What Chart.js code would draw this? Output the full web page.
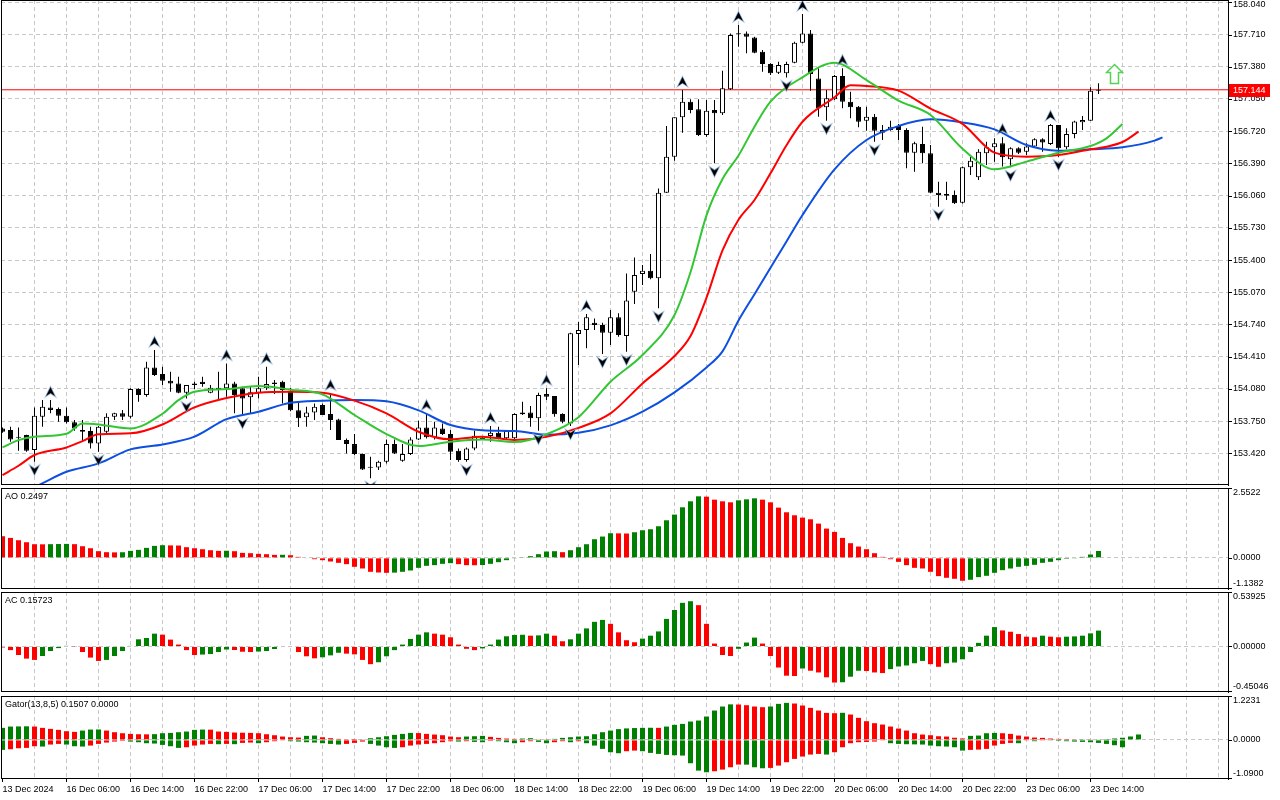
<!DOCTYPE html>
<html>
<head>
<meta charset="utf-8">
<title>USDJPY H1 - Alligator, Fractals, AO, AC, Gator</title>
<script src="https://cdn.jsdelivr.net/npm/chart.js@4.4.1/dist/chart.umd.min.js"></script>
<style>
  html, body { margin: 0; padding: 0; background: #fff; }
  body { position: relative; width: 1280px; height: 800px; overflow: hidden; }
  canvas { position: absolute; left: 0; }
</style>
</head>
<body>
<canvas id="cMain" width="1280" height="486" style="top:0"></canvas>
<canvas id="cAO" width="1280" height="103" style="top:487px"></canvas>
<canvas id="cAC" width="1280" height="102" style="top:591px"></canvas>
<canvas id="cGator" width="1280" height="105" style="top:695px"></canvas>
<script>
// ---- candles (one per hour, bar 0 = 13 Dec 22:00) ----
const opens = [
  153.675,153.658,153.585,153.607,153.453,153.795,153.890,153.873,153.805,153.737,
  153.658,153.648,153.521,153.641,153.795,153.829,153.795,154.078,154.017,154.300,
  154.232,154.163,154.136,154.041,154.119,154.153,154.041,154.092,154.085,154.136,
  154.085,153.993,154.041,154.085,154.146,154.153,154.060,153.860,153.788,153.839,
  153.914,153.822,153.767,153.555,153.514,153.412,153.278,153.275,153.333,153.514,
  153.344,153.412,153.562,153.685,153.583,153.675,153.617,153.446,153.350,153.470,
  153.580,153.597,153.631,153.573,153.573,153.819,153.839,153.778,154.027,154.007,
  153.822,153.725,154.642,154.683,154.758,154.734,154.656,154.813,154.622,155.076,
  155.257,155.291,155.212,156.090,156.459,156.862,157.022,156.944,156.681,156.937,
  156.903,157.149,157.712,157.722,157.681,157.535,157.408,157.319,157.313,157.422,
  157.627,157.722,157.261,156.964,157.046,157.285,157.022,156.971,156.828,156.869,
  156.705,156.732,156.773,156.732,156.500,156.589,156.493,156.090,156.076,156.066,
  155.988,156.350,156.247,156.493,156.555,156.596,156.432,156.545,156.510,156.562,
  156.637,156.589,156.784,156.555,156.691,156.811,156.828,157.135
];
const highs = [
  153.685,153.692,153.685,153.610,153.890,153.965,153.965,153.890,153.890,153.760,
  153.760,153.692,153.699,153.829,153.836,153.863,154.085,154.085,154.358,154.478,
  154.307,154.256,154.204,154.119,154.153,154.204,154.119,154.256,154.341,154.153,
  154.102,154.102,154.204,154.307,154.170,154.163,154.090,153.950,153.897,153.931,
  153.931,154.034,153.775,153.572,153.617,153.419,153.385,153.344,153.562,153.562,
  153.514,153.583,153.753,153.829,153.743,153.726,153.658,153.470,153.480,153.650,
  153.590,153.699,153.692,153.658,153.829,153.949,153.904,154.041,154.085,154.007,
  153.829,154.656,154.768,154.847,154.802,154.758,154.888,154.854,155.263,155.427,
  155.349,155.462,156.134,156.773,156.862,157.142,157.046,157.046,157.039,157.039,
  157.340,157.722,157.808,157.740,157.688,157.552,157.415,157.432,157.432,157.637,
  157.921,157.757,157.364,157.142,157.296,157.364,157.125,156.978,156.971,156.896,
  156.783,156.828,156.793,156.749,156.613,156.766,156.578,156.203,156.203,156.111,
  156.357,156.459,156.534,156.613,156.647,156.657,156.555,156.555,156.596,156.647,
  156.647,156.794,156.784,156.749,156.828,156.876,157.169,157.210
];
const lows = [
  153.631,153.538,153.446,153.436,153.334,153.692,153.829,153.743,153.726,153.651,
  153.538,153.470,153.436,153.624,153.760,153.760,153.777,153.948,154.000,154.211,
  154.119,154.051,154.034,153.982,154.075,154.102,154.034,153.965,154.000,153.829,
  153.812,153.829,153.982,154.068,154.027,153.931,153.850,153.690,153.692,153.760,
  153.811,153.658,153.555,153.419,153.402,153.248,153.163,153.248,153.316,153.412,
  153.333,153.402,153.555,153.572,153.562,153.607,153.350,153.333,153.333,153.450,
  153.556,153.539,153.563,153.563,153.563,153.812,153.692,153.651,153.966,153.795,
  153.727,153.700,154.324,154.495,154.683,154.437,154.529,154.615,154.461,154.949,
  155.144,155.202,154.905,156.090,156.418,156.705,156.903,156.671,156.664,156.391,
  156.886,157.142,157.586,157.518,157.518,157.330,157.296,157.306,157.270,157.415,
  157.620,157.135,156.869,156.828,157.039,156.954,156.852,156.759,156.725,156.613,
  156.630,156.725,156.630,156.339,156.305,156.391,156.083,155.947,156.015,155.974,
  155.980,156.271,156.220,156.374,156.408,156.357,156.350,156.486,156.476,156.555,
  156.510,156.579,156.459,156.534,156.647,156.732,156.828,157.101
];
const closes = [
  153.641,153.562,153.580,153.446,153.805,153.897,153.863,153.805,153.737,153.675,
  153.641,153.521,153.692,153.795,153.829,153.795,154.078,154.017,154.300,154.221,
  154.163,154.136,154.041,154.119,154.136,154.129,154.092,154.068,154.136,154.017,
  153.982,154.044,154.085,154.129,154.129,154.068,153.860,153.780,153.839,153.897,
  153.811,153.760,153.555,153.514,153.412,153.255,153.272,153.333,153.514,153.419,
  153.412,153.562,153.685,153.583,153.685,153.617,153.436,153.350,153.470,153.600,
  153.563,153.631,153.573,153.648,153.822,153.839,153.778,154.017,154.000,153.819,
  153.744,154.649,154.683,154.813,154.734,154.656,154.813,154.632,154.985,155.246,
  155.291,155.212,156.090,156.459,156.862,157.022,156.937,156.681,156.930,156.903,
  157.159,157.705,157.720,157.688,157.524,157.408,157.313,157.398,157.408,157.627,
  157.722,157.306,156.954,157.057,157.285,157.022,156.964,156.817,156.869,156.725,
  156.732,156.766,156.732,156.500,156.596,156.493,156.090,156.066,156.059,155.981,
  156.350,156.418,156.510,156.555,156.596,156.452,156.545,156.500,156.562,156.637,
  156.603,156.784,156.545,156.691,156.818,156.835,157.135,157.144
];

// ---- Alligator lines, read at these bar positions (already shifted forward) ----
const jawBars = [0,4,8,12,16,20,24,28,32,36,40,44,48,52,56,60,64,68,72,76,80,84,88,90,92,94,96,98,100,104,108,112,116,120,124,128,132,136,140,144,145];
const jawValues = [152.975,153.077,153.231,153.316,153.460,153.511,153.590,153.770,153.846,153.938,
  153.959,153.966,153.952,153.860,153.709,153.656,153.648,153.610,153.630,153.706,
  153.846,154.044,154.300,154.464,154.780,155.050,155.320,155.590,155.861,156.329,
  156.630,156.773,156.841,156.810,156.739,156.578,156.520,156.534,156.555,156.623,156.657];
const teethBars = [0,2,4,8,10,12,16,20,24,28,32,36,40,44,48,52,56,60,64,68,72,76,80,84,86,88,90,92,94,96,98,100,104,106,108,112,116,120,124,128,132,136,138,140,142];
const teethValues = [153.197,153.292,153.402,153.480,153.545,153.614,153.624,153.715,153.890,153.986,
  154.041,154.050,154.041,153.959,153.829,153.641,153.563,153.590,153.556,153.588,
  153.680,153.829,154.136,154.416,154.621,155.014,155.499,155.813,156.015,156.288,
  156.575,156.817,157.067,157.190,157.183,157.135,156.951,156.795,156.500,156.459,
  156.476,156.534,156.561,156.609,156.715];
const lipsBars = [0,2,4,8,10,12,16,20,22,24,28,32,36,40,44,48,52,56,60,64,68,72,76,80,84,86,88,90,92,94,96,100,104,108,112,116,120,124,128,132,136,138,140];
const lipsValues = [153.480,153.555,153.590,153.620,153.726,153.716,153.675,153.825,153.965,154.051,
  154.078,154.109,154.072,154.024,153.812,153.617,153.494,153.539,153.560,153.535,
  153.615,153.790,154.153,154.427,154.837,155.274,155.858,156.230,156.470,156.766,
  157.022,157.272,157.422,157.244,157.033,156.886,156.540,156.329,156.408,156.500,
  156.568,156.647,156.794];

// ---- fractals (bar numbers) and the signal arrow ----
const upFractals = [6,19,28,33,41,53,61,68,73,85,92,100,105,125,131];
const downFractals = [4,12,23,30,46,58,67,71,75,78,82,89,98,103,109,117,126,132];
const signalBar = 139;
const signalPrice = 157.306;

// ---- oscillators ----
const aoValues = [
  0.790,0.729,0.644,0.571,0.498,0.495,0.500,0.505,0.510,0.500,
  0.425,0.352,0.243,0.207,0.200,0.205,0.255,0.292,0.365,0.437,
  0.462,0.455,0.450,0.389,0.352,0.316,0.279,0.255,0.260,0.243,
  0.182,0.170,0.146,0.134,0.109,0.112,0.097,0.036,-0.020,-0.049,
  -0.085,-0.134,-0.182,-0.231,-0.328,-0.389,-0.510,-0.535,-0.547,-0.540,
  -0.510,-0.462,-0.365,-0.292,-0.267,-0.219,-0.194,-0.231,-0.267,-0.270,
  -0.262,-0.219,-0.158,-0.085,-0.024,0.024,0.061,0.134,0.231,0.243,
  0.207,0.279,0.389,0.498,0.680,0.778,0.899,0.895,0.890,0.936,
  1.008,1.045,1.154,1.373,1.580,1.847,2.066,2.248,2.236,2.126,
  2.066,2.029,2.102,2.138,2.175,2.126,2.029,1.835,1.665,1.555,
  1.470,1.409,1.251,1.069,0.948,0.729,0.535,0.413,0.316,0.170,
  0.036,-0.049,-0.146,-0.267,-0.365,-0.389,-0.510,-0.668,-0.729,-0.765,
  -0.838,-0.802,-0.705,-0.656,-0.547,-0.450,-0.389,-0.328,-0.292,-0.255,
  -0.182,-0.146,-0.085,-0.036,-0.012,0.036,0.122,0.2497
];
const acValues = [
  -0.010,-0.036,-0.084,-0.120,-0.133,-0.094,-0.045,-0.016,0.006,0.002,
  -0.055,-0.110,-0.143,-0.133,-0.094,-0.045,0.006,0.071,0.084,0.127,
  0.117,0.068,0.019,-0.036,-0.084,-0.080,-0.075,-0.055,-0.030,-0.035,
  -0.052,-0.055,-0.050,-0.045,-0.025,-0.005,0.000,-0.055,-0.097,-0.117,
  -0.107,-0.088,-0.062,-0.071,-0.078,-0.133,-0.175,-0.156,-0.097,-0.036,
  0.019,0.075,0.117,0.140,0.127,0.117,0.091,0.019,-0.023,-0.036,
  -0.019,0.019,0.068,0.101,0.114,0.116,0.107,0.110,0.127,0.107,
  0.052,0.071,0.127,0.179,0.244,0.263,0.224,0.140,0.062,0.042,
  0.078,0.107,0.149,0.273,0.361,0.432,0.448,0.409,0.224,0.029,
  -0.084,-0.094,-0.023,0.039,0.088,0.029,-0.094,-0.208,-0.289,-0.292,
  -0.218,-0.240,-0.257,-0.305,-0.357,-0.354,-0.299,-0.240,-0.243,-0.257,
  -0.263,-0.224,-0.198,-0.188,-0.166,-0.143,-0.175,-0.201,-0.166,-0.159,
  -0.127,-0.055,0.036,0.107,0.192,0.159,0.146,0.123,0.097,0.091,
  0.107,0.097,0.091,0.097,0.100,0.107,0.130,0.15723
];
const gatorUp = [
  0.335,0.372,0.375,0.378,0.372,0.335,0.307,0.279,0.242,0.223,
  0.260,0.288,0.290,0.260,0.214,0.186,0.167,0.158,0.155,0.160,
  0.186,0.195,0.214,0.233,0.279,0.288,0.285,0.233,0.223,0.205,
  0.200,0.195,0.186,0.158,0.130,0.093,0.074,0.065,0.112,0.121,
  0.074,0.047,0.028,0.009,0.002,0.019,0.047,0.074,0.102,0.140,
  0.167,0.195,0.190,0.167,0.149,0.130,0.093,0.074,0.093,0.102,
  0.112,0.084,0.056,0.037,0.028,0.037,0.047,0.019,0.009,0.028,
  0.056,0.074,0.093,0.102,0.158,0.214,0.260,0.300,0.320,0.330,
  0.335,0.338,0.335,0.372,0.419,0.446,0.512,0.539,0.651,0.818,
  0.930,0.990,0.986,0.967,0.930,0.911,0.930,1.004,1.032,1.014,
  0.958,0.893,0.818,0.753,0.744,0.755,0.707,0.614,0.521,0.465,
  0.428,0.372,0.316,0.260,0.186,0.149,0.130,0.102,0.093,0.060,
  0.040,0.112,0.121,0.186,0.195,0.186,0.167,0.121,0.093,0.065,
  0.056,0.037,0.028,0.025,0.019,0.020,0.010,0.018,0.025,0.040,
  0.060,0.095,0.1507
];
const gatorDown = [
  -0.279,-0.260,-0.233,-0.223,-0.177,-0.186,-0.130,-0.112,-0.130,-0.177,
  -0.186,-0.158,-0.112,-0.074,-0.047,-0.028,-0.047,-0.065,-0.093,-0.102,
  -0.140,-0.177,-0.223,-0.205,-0.158,-0.130,-0.112,-0.121,-0.112,-0.120,
  -0.084,-0.074,-0.093,-0.065,-0.037,-0.019,-0.037,-0.047,-0.065,-0.074,
  -0.093,-0.112,-0.130,-0.112,-0.084,-0.047,-0.112,-0.158,-0.205,-0.223,
  -0.205,-0.158,-0.130,-0.112,-0.093,-0.065,-0.037,-0.047,-0.037,-0.056,
  -0.065,-0.028,-0.037,-0.065,-0.093,-0.065,-0.037,-0.056,-0.093,-0.065,
  -0.037,-0.065,-0.037,-0.093,-0.158,-0.251,-0.344,-0.372,-0.316,-0.298,
  -0.316,-0.363,-0.391,-0.419,-0.428,-0.437,-0.651,-0.856,-0.902,-0.874,
  -0.828,-0.763,-0.688,-0.690,-0.763,-0.791,-0.781,-0.716,-0.623,-0.530,
  -0.465,-0.409,-0.391,-0.409,-0.344,-0.205,-0.093,-0.065,-0.058,-0.047,
  -0.019,-0.093,-0.112,-0.121,-0.125,-0.130,-0.158,-0.177,-0.186,-0.205,
  -0.298,-0.279,-0.270,-0.251,-0.158,-0.112,-0.084,-0.093,-0.019,-0.037,
  -0.009,-0.019,-0.028,-0.037,-0.047,-0.056,-0.065,-0.084,-0.112,-0.149,
  -0.205
];

// ---- axes ----
const priceTicks = [158.040,157.710,157.380,157.050,156.720,156.390,156.060,155.730,155.400,155.070,154.740,154.410,154.080,153.750,153.420];
const priceRange = [153.095, 158.064];
const aoRange = [-1.1382, 2.5522];
const acRange = [-0.45046, 0.53925];
const gatorRange = [-1.0900, 1.2231];
const timeLabelBars = [0,8,16,24,32,40,48,56,64,72,80,88,96,104,112,120,128,136];
const timeLabels = ['13 Dec 2024','16 Dec 06:00','16 Dec 14:00','16 Dec 22:00','17 Dec 06:00','17 Dec 14:00',
  '17 Dec 22:00','18 Dec 06:00','18 Dec 14:00','18 Dec 22:00','19 Dec 06:00','19 Dec 14:00',
  '19 Dec 22:00','20 Dec 06:00','20 Dec 14:00','20 Dec 22:00','23 Dec 06:00','23 Dec 14:00'];

// ---- look ----
const X_MIN = -0.1875, X_MAX = 153.1875;   // 8 px per bar
const GRID = '#c8c8c8';
const GREEN = '#008000', RED = '#ff0000';
const JAW = '#0d4fe0', TEETH = '#ff0000', LIPS = '#33c633';
const FONT = { family: 'Liberation Sans', size: 9 };
const CSS_FONT = '9px "Liberation Sans"';
const gridBars = [];
for (let b = 0; b <= 152; b += 4) gridBars.push(b);

function timeScale(withLabels) {
  return {
    type: 'linear', min: X_MIN, max: X_MAX, offset: false,
    afterBuildTicks: s => { s.ticks = gridBars.map(v => ({ value: v })); },
    afterFit: s => { s.height = withLabels ? 21 : 0; s.paddingLeft = 0; s.paddingRight = 0; },
    grid: {
      offset: false,
      color: c => (c.tick && c.tick.value === 0) ? 'rgba(0,0,0,0)' : GRID,
      drawTicks: withLabels,
      tickLength: 3,
      tickColor: c => (c.tick && timeLabelBars.includes(c.tick.value)) ? '#000' : 'rgba(0,0,0,0)',
      tickBorderDash: []
    },
    border: { display: false, dash: [4, 3] },
    ticks: {
      display: withLabels, autoSkip: false, maxRotation: 0, minRotation: 0,
      align: 'start', padding: 2, color: '#000', font: FONT,
      callback: v => { const k = timeLabelBars.indexOf(v); return k < 0 ? '' : timeLabels[k]; }
    }
  };
}

// right-hand value scale; its labels are written by the decor plugin
function valueScale(range, gridValues) {
  return {
    position: 'right', min: range[0], max: range[1], beginAtZero: false,
    afterBuildTicks: s => { s.ticks = gridValues.map(v => ({ value: v })); },
    afterFit: s => { s.width = 52; },
    grid: { color: GRID, drawTicks: false },
    border: { display: true, color: '#000', dash: [4, 3] },
    ticks: { display: false }
  };
}

function paneOptions(yScale, withTime, pad) {
  return {
    responsive: false,
    animation: false,
    events: [],
    layout: { padding: pad, autoPadding: false },
    plugins: { legend: { display: false }, tooltip: { enabled: false } },
    scales: { x: timeScale(withTime), y: yScale }
  };
}

// frame, title, right-hand value labels and the price tag
function decor(cfg) {
  return {
    id: 'decor',
    afterDraw(chart) {
      const { ctx, chartArea: a } = chart;
      const ys = chart.scales.y;
      ctx.save();
      ctx.strokeStyle = '#000';
      ctx.lineWidth = 1;
      ctx.strokeRect(a.left + 0.5, a.top + 0.5, a.right - a.left, a.bottom - a.top - 1);
      ctx.font = CSS_FONT;
      ctx.fillStyle = '#000';
      ctx.textBaseline = 'middle';
      ctx.textAlign = 'left';
      if (cfg.title) ctx.fillText(cfg.title, 5, a.top + 9);
      (cfg.labels || []).forEach(([v, txt]) => {
        const yv = ys.getPixelForValue(v);
        const yTick = Math.round(Math.min(Math.max(yv, a.top), a.bottom - 1)) + 0.5;
        const yText = Math.min(Math.max(yv, a.top + 5), a.bottom - 5);
        ctx.beginPath();
        ctx.moveTo(a.right, yTick);
        ctx.lineTo(a.right + 4, yTick);
        ctx.stroke();
        ctx.fillText(txt, a.right + 5, yText);
      });
      if (cfg.tag != null) {
        const y = Math.round(ys.getPixelForValue(cfg.tag));
        ctx.fillStyle = RED;
        ctx.fillRect(a.right + 1, y - 6, 41, 13);
        ctx.fillStyle = '#fff';
        ctx.fillText(cfg.tag.toFixed(3), a.right + 5, y + 0.5);
      }
      ctx.restore();
    }
  };
}

function fractalImage(up) {
  const c = document.createElement('canvas');
  c.width = 13; c.height = 32;
  const g = c.getContext('2d');
  const y0 = up ? 3 : 29, d = up ? 1 : -1;
  g.beginPath();
  g.moveTo(6.5, y0);
  g.lineTo(11, y0 + d * 9);
  g.lineTo(6.5, y0 + d * 6);
  g.lineTo(2, y0 + d * 9);
  g.closePath();
  g.strokeStyle = 'rgba(130,170,215,0.9)';
  g.lineWidth = 1.5;
  g.stroke();
  g.fillStyle = '#000';
  g.fill();
  return c;
}

function signalImage() {
  const c = document.createElement('canvas');
  c.width = 19; c.height = 22;
  const g = c.getContext('2d');
  g.beginPath();
  g.moveTo(9.5, 1.5); g.lineTo(17.5, 9.5); g.lineTo(13.5, 9.5); g.lineTo(13.5, 20.5);
  g.lineTo(5.5, 20.5); g.lineTo(5.5, 9.5); g.lineTo(1.5, 9.5);
  g.closePath();
  g.fillStyle = '#fff';
  g.fill();
  g.strokeStyle = '#55d255';
  g.lineWidth = 1.5;
  g.stroke();
  return c;
}

function lineSet(bars, values, color) {
  return {
    type: 'line', data: bars.map((b, k) => ({ x: b, y: values[k] })),
    borderColor: color, borderWidth: 2, pointRadius: 0,
    cubicInterpolationMode: 'monotone', order: 1
  };
}

const risingAO = (arr, i) => (i > 0 && arr[i] > arr[i - 1]) ? GREEN : RED;
const risingGator = (arr, i) => (i === 0 || Math.abs(arr[i]) > Math.abs(arr[i - 1])) ? GREEN : RED;

function histogram(values, colorOf) {
  return {
    type: 'bar', data: values.map((v, i) => ({ x: i, y: v })),
    backgroundColor: c => colorOf(values, c.dataIndex),
    borderWidth: 0, grouped: false, inflateAmount: 0,
    maxBarThickness: 5, categoryPercentage: 1, barPercentage: 1
  };
}

function edgeLabels(range, digits) {
  return [[range[1], range[1].toFixed(digits)], [0, (0).toFixed(digits)], [range[0], range[0].toFixed(digits)]];
}

// ===========================
// PRICE PANE
// ===========================
const bars = opens.map((_, i) => i);
const lastPrice = closes[closes.length - 1];

new Chart(document.getElementById('cMain'), {
  type: 'bar',
  data: {
    datasets: [
      { type: 'scatter', data: upFractals.map(i => ({ x: i, y: highs[i] })), pointStyle: fractalImage(true), pointRadius: 5, order: 0 },
      { type: 'scatter', data: downFractals.map(i => ({ x: i, y: lows[i] })), pointStyle: fractalImage(false), pointRadius: 5, order: 0 },
      { type: 'scatter', data: [{ x: signalBar, y: signalPrice }], pointStyle: signalImage(), pointRadius: 5, order: 0 },
      lineSet(lipsBars, lipsValues, LIPS),
      lineSet(teethBars, teethValues, TEETH),
      lineSet(jawBars, jawValues, JAW),
      {
        type: 'bar',
        data: bars.map(i => ({ x: i, y: [Math.min(opens[i], closes[i]), Math.max(opens[i], closes[i])] })),
        backgroundColor: c => closes[c.dataIndex] >= opens[c.dataIndex] ? '#fff' : '#000',
        borderColor: '#000', borderWidth: 1, borderSkipped: false, minBarLength: 1,
        grouped: false, inflateAmount: 0, maxBarThickness: 5, categoryPercentage: 1, barPercentage: 1,
        order: 2
      },
      {
        type: 'bar',
        data: bars.map(i => ({ x: i, y: [lows[i], highs[i]] })),
        backgroundColor: '#000', borderWidth: 0, minBarLength: 1,
        grouped: false, inflateAmount: 0, maxBarThickness: 1, categoryPercentage: 1, barPercentage: 1,
        order: 3
      },
      {
        type: 'line', data: [{ x: X_MIN, y: lastPrice }, { x: X_MAX, y: lastPrice }],
        borderColor: RED, borderWidth: 1, pointRadius: 0, order: 4
      }
    ]
  },
  options: paneOptions(valueScale(priceRange, priceTicks), false, { left: 1, top: 0, right: 0, bottom: 1 }),
  plugins: [decor({ labels: priceTicks.map(v => [v, v.toFixed(3)]), tag: lastPrice })]
});

// ===========================
// AO
// ===========================
new Chart(document.getElementById('cAO'), {
  type: 'bar',
  data: { datasets: [histogram(aoValues, risingAO)] },
  options: paneOptions(valueScale(aoRange, [0]), false, { left: 1, top: 1, right: 0, bottom: 1 }),
  plugins: [decor({ title: 'AO ' + aoValues[aoValues.length - 1].toFixed(4), labels: edgeLabels(aoRange, 4) })]
});

// ===========================
// AC
// ===========================
new Chart(document.getElementById('cAC'), {
  type: 'bar',
  data: { datasets: [histogram(acValues, risingAO)] },
  options: paneOptions(valueScale(acRange, [0]), false, { left: 1, top: 1, right: 0, bottom: 1 }),
  plugins: [decor({ title: 'AC ' + acValues[acValues.length - 1].toFixed(5), labels: edgeLabels(acRange, 5) })]
});

// ===========================
// GATOR
// ===========================
new Chart(document.getElementById('cGator'), {
  type: 'bar',
  data: { datasets: [histogram(gatorUp, risingGator), histogram(gatorDown, risingGator)] },
  options: paneOptions(valueScale(gatorRange, [0]), true, { left: 1, top: 1, right: 0, bottom: 0 }),
  plugins: [decor({
    title: 'Gator(13,8,5) ' + gatorUp[gatorUp.length - 1].toFixed(4) + ' 0.0000',
    labels: edgeLabels(gatorRange, 4)
  })]
});
</script>
</body>
</html>
